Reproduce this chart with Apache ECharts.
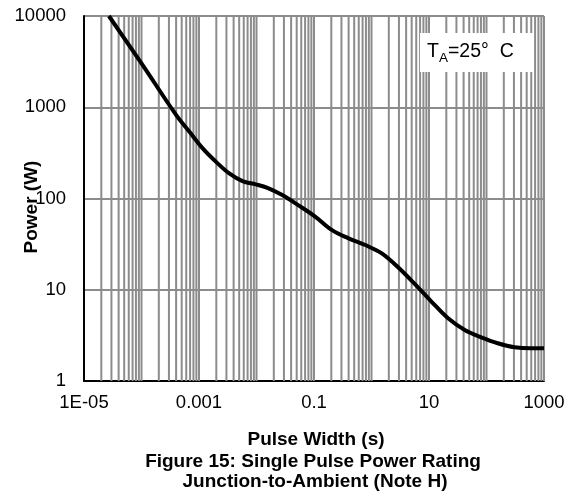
<!DOCTYPE html>
<html>
<head>
<meta charset="utf-8">
<script src="https://cdn.jsdelivr.net/npm/echarts@6/dist/echarts.min.js"></script>
<style>html,body{margin:0;padding:0;background:#fff;}#c{width:579px;height:501px;}</style>
</head>
<body>
<div id="c"></div>
<script>
// Data
var pulseWidth = [2.71e-5, 1.0e-4, 4.02e-4, 6.83e-4, 1.16e-3, 1.98e-3, 3.36e-3, 5.70e-3, 9.72e-3, 0.0155, 0.0281, 0.0546, 0.106, 0.206, 0.40, 0.778, 1.51, 2.93, 5.70, 11.0, 21.5, 41.8, 81, 157, 306, 593, 1000];
var power =      [10000,   3027,   819,     538,     354,     252,     188,     155,     143,     131,    109,    83.6,   63,    45,    36.6, 30.9,  25,   17.5, 11.5, 7.43, 4.86, 3.62, 3.01, 2.59, 2.34, 2.28, 2.28];
var xTickLabels = ['1E-05', '0.001', '0.1', '10', '1000'];
var xTickExps = [-5, -3, -1, 1, 3];
var yTickLabels = ['1', '10', '100', '1000', '10000'];
var xTitle = 'Pulse Width (s)';
var yTitle = 'Power (W)';
var caption1 = 'Figure 15: Single Pulse Power Rating';
var caption2 = 'Junction-to-Ambient (Note H)';

var FONT = 'Liberation Sans, Arial, sans-serif';
var GRID = '#8c8c8c';

var seriesData = pulseWidth.map(function (t, i) { return [t, power[i]]; });

// vertical grid line positions (decades + 2..9 minors), placed through the x scale
var vLines = [];
for (var e = -5; e < 3; e++) {
  for (var k = 1; k <= 9; k++) {
    if (e === -5 && k === 1) continue;
    vLines.push([k * Math.pow(10, e)]);
  }
}
vLines.push([1000]);

var chart = echarts.init(document.getElementById('c'), null, { renderer: 'canvas' });
chart.setOption({
  animation: false,
  backgroundColor: '#fff',
  grid: { left: 84, right: 35, top: 16, bottom: 120, containLabel: false, outerBoundsMode: 'none' },
  xAxis: {
    type: 'log', logBase: 10, min: 1e-5, max: 1000,
    axisLine: { show: true, lineStyle: { color: '#000', width: 2 } },
    axisTick: { show: false },
    splitLine: { show: false },
    axisLabel: {
      margin: 12, color: '#000', fontSize: 18.5, fontFamily: FONT,
      formatter: function (v) {
        var ex = Math.round(Math.log10(v));
        var idx = xTickExps.indexOf(ex);
        return idx >= 0 ? xTickLabels[idx] : '';
      }
    }
  },
  yAxis: {
    type: 'log', logBase: 10, min: 1, max: 10000,
    axisLine: { show: true, lineStyle: { color: '#000', width: 2 } },
    axisTick: { show: false },
    splitLine: { show: true, lineStyle: { color: GRID, width: 2 } },
    axisLabel: {
      margin: 18, color: '#000', fontSize: 18.5, fontFamily: FONT,
      formatter: function (v) {
        var ex = Math.round(Math.log10(v));
        return yTickLabels[ex] !== undefined ? yTickLabels[ex] : '';
      }
    }
  },
  series: [
    {
      type: 'custom', z: 1, silent: true, data: vLines,
      encode: { x: 0 },
      renderItem: function (params, api) {
        var v = api.value(0);
        var p1 = api.coord([v, 1]);
        var p2 = api.coord([v, 10000]);
        return {
          type: 'line',
          shape: { x1: p1[0], y1: p1[1], x2: p2[0], y2: p2[1] },
          style: { stroke: GRID, lineWidth: 2 }
        };
      }
    },
    {
      type: 'line', z: 5, data: seriesData, smooth: 0.35, showSymbol: false,
      clip: true,
      lineStyle: { color: '#000', width: 4 }
    }
  ],
  graphic: [
    { type: 'rect', z: 10, shape: { x: 420, y: 33, width: 113, height: 39 }, style: { fill: '#fff' } },
    {
      type: 'text', z: 11, left: 427, top: 42,
      style: {
        text: '{n|T}{s|A}{n|=25°  C}',
        rich: {
          n: { fontSize: 19.5, fontFamily: FONT, fill: '#000', color: '#000' },
          s: { fontSize: 13.5, fontFamily: FONT, fill: '#000', color: '#000', padding: [12, 0, 0, 0] }
        }
      }
    },
    { type: 'text', z: 11, x: 32, y: 207, rotation: Math.PI / 2, style: { text: yTitle, textAlign: 'center', textVerticalAlign: 'middle', align: 'center', verticalAlign: 'middle', font: 'bold 19px ' + FONT, fill: '#000' } },
    { type: 'text', z: 11, x: 316, y: 440, style: { text: xTitle, textAlign: 'center', textVerticalAlign: 'middle', align: 'center', verticalAlign: 'middle', font: 'bold 19px ' + FONT, fill: '#000' } },
    { type: 'text', z: 11, x: 313, y: 462, style: { text: caption1, textAlign: 'center', textVerticalAlign: 'middle', align: 'center', verticalAlign: 'middle', font: 'bold 19px ' + FONT, fill: '#000' } },
    { type: 'text', z: 11, x: 315, y: 482, style: { text: caption2, textAlign: 'center', textVerticalAlign: 'middle', align: 'center', verticalAlign: 'middle', font: 'bold 19px ' + FONT, fill: '#000' } }
  ]
});
</script>
</body>
</html>
